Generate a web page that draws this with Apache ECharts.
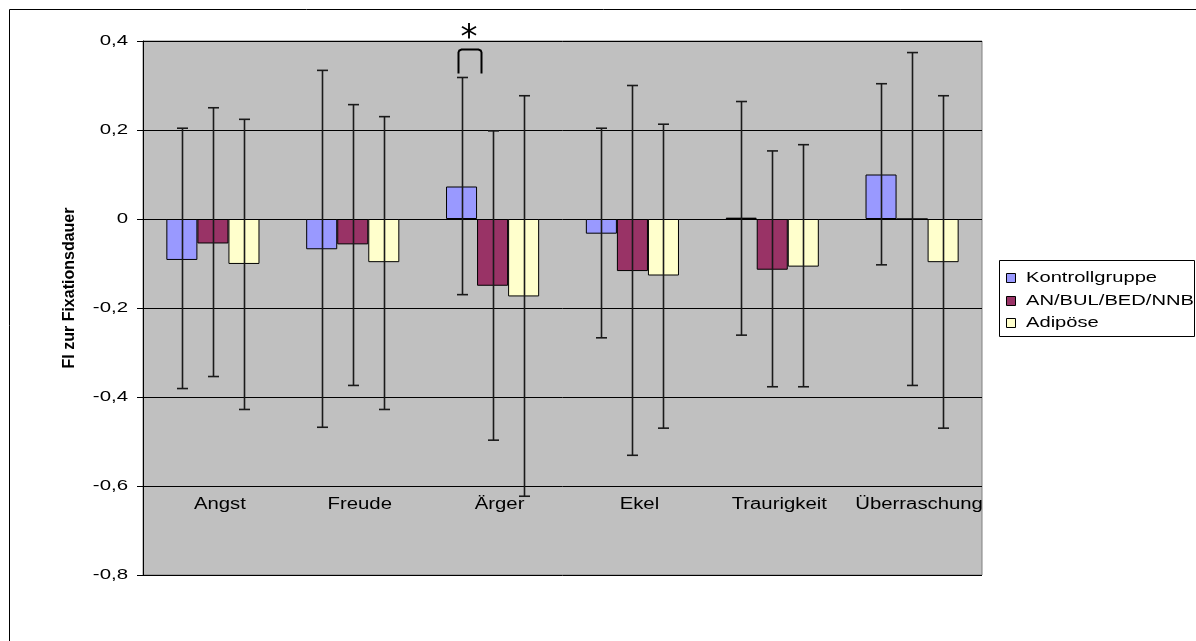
<!DOCTYPE html>
<html>
<head>
<meta charset="utf-8">
<script src="https://cdn.jsdelivr.net/npm/echarts@6/dist/echarts.min.js"></script>
<style>
  html, body { margin: 0; padding: 0; background: #fff; }
  #chart { width: 1196px; height: 641px; }
</style>
</head>
<body>
<div id="chart"></div>
<script>
// Emotion categories along the x axis
const categories = ['Angst', 'Freude', 'Ärger', 'Ekel', 'Traurigkeit', 'Überraschung'];

// Group names
const groupNames = ['Kontrollgruppe', 'AN/BUL/BED/NNB', 'Adipöse'];

// Mean FI per emotion
const kontrollMean = [-0.092, -0.068, 0.073, -0.033, 0.003, 0.100];
const essstoerungMean = [-0.055, -0.057, -0.150, -0.117, -0.114, 0];
const adipoesMean = [-0.101, -0.097, -0.174, -0.127, -0.107, -0.097];

// Error bar ends (upper / lower)
const kontrollHigh = [0.204, 0.334, 0.318, 0.204, 0.264, 0.304];
const kontrollLow = [-0.381, -0.468, -0.170, -0.267, -0.261, -0.103];
const essstoerungHigh = [0.250, 0.257, 0.198, 0.300, 0.153, 0.374];
const essstoerungLow = [-0.354, -0.374, -0.497, -0.531, -0.377, -0.374];
const adipoesHigh = [0.224, 0.230, 0.277, 0.213, 0.167, 0.277];
const adipoesLow = [-0.428, -0.428, -0.623, -0.470, -0.377, -0.470];

// Y axis range and tick values
const yMin = -0.8, yMax = 0.4, yStep = 0.2;
const yTicks = [0.4, 0.2, 0, -0.2, -0.4, -0.6, -0.8];

const colors = ['#9999FF', '#993366', '#FFFFCC'];
const BAR_FRAC = 0.222;
const FONT = '"Liberation Sans", Arial, sans-serif';

const means = [kontrollMean, essstoerungMean, adipoesMean];
const highs = [kontrollHigh, essstoerungHigh, adipoesHigh];
const lows = [kontrollLow, essstoerungLow, adipoesLow];

const barSeries = groupNames.map((name, k) => ({
  name: name,
  type: 'bar',
  data: means[k],
  barWidth: (BAR_FRAC * 100) + '%',
  barGap: '0%',
  itemStyle: { color: colors[k], borderColor: '#000', borderWidth: 1 },
  emphasis: { disabled: true },
  z: 2
}));

const errorSeries = groupNames.map((name, k) => ({
  name: name + ' SD',
  type: 'custom',
  z: 5,
  data: categories.map((c, i) => [i, lows[k][i], highs[k][i]]),
  renderItem: function (params, api) {
    const band = api.size([1, 0])[0];
    const off = (k - 1) * band * BAR_FRAC;
    const lo = api.coord([api.value(0), api.value(1)]);
    const hi = api.coord([api.value(0), api.value(2)]);
    const x = Math.round(lo[0] + off) + 0.5;
    const cap = 5.5;
    const st = { stroke: '#1a1a1a', lineWidth: 1.6 };
    return {
      type: 'group',
      children: [
        { type: 'line', shape: { x1: x, y1: hi[1], x2: x, y2: lo[1] }, style: st },
        { type: 'line', shape: { x1: x - cap, y1: hi[1], x2: x + cap, y2: hi[1] }, style: st },
        { type: 'line', shape: { x1: x - cap, y1: lo[1], x2: x + cap, y2: lo[1] }, style: st }
      ]
    };
  }
}));

const chart = echarts.init(document.getElementById('chart'), null, { renderer: 'canvas' });

chart.setOption({
  animation: false,
  backgroundColor: '#fff',
  textStyle: { fontFamily: FONT },
  grid: {
    left: 143, right: 214, top: 41, bottom: 66,
    show: true, backgroundColor: '#C0C0C0', borderColor: '#808080', borderWidth: 1
  },
  xAxis: {
    type: 'category',
    data: categories,
    axisLine: { show: false },
    axisTick: { show: false },
    axisLabel: { show: false },
    splitLine: { show: false }
  },
  yAxis: {
    type: 'value',
    min: yMin, max: yMax, interval: yStep,
    axisLine: { show: true, lineStyle: { color: '#000', width: 1 } },
    axisTick: { show: true, inside: false, length: 6, lineStyle: { color: '#000' } },
    axisLabel: { show: false },
    splitLine: { show: true, lineStyle: { color: '#000', width: 1 } }
  },
  series: barSeries.concat(errorSeries)
});

function fmt(v) {
  return Math.abs(v) < 1e-9 ? '0' : v.toFixed(1).replace('.', ',');
}

// Label text drawn with horizontally widened glyphs
function wideText(str, x, y, size, align, wide) {
  return {
    type: 'text', silent: true, z: 20,
    x: x, y: y, scaleX: wide,
    style: {
      text: str, fill: '#000', font: size + 'px ' + FONT,
      textAlign: align, textVerticalAlign: 'middle'
    }
  };
}

// Tick labels, category labels, legend, axis title, significance mark and frame
function drawAnnotations() {
  const gfx = [];
  const xPix = i => chart.convertToPixel({ xAxisIndex: 0 }, i);
  const yPix = v => chart.convertToPixel({ yAxisIndex: 0 }, v);
  const band = xPix(1) - xPix(0);
  const axisX = xPix(0) - band / 2;

  gfx.push({
    type: 'rect', silent: true, z: -10,
    shape: { x: 9.5, y: 9.5, width: 1300, height: 700 },
    style: { fill: 'none', stroke: '#000', lineWidth: 1 }
  });

  yTicks.forEach(v => gfx.push(wideText(fmt(v), axisX - 15, yPix(v), 15, 'right', 1.36)));

  const labelY = yPix(-0.6) + 19;
  categories.forEach((c, i) => gfx.push(wideText(c, xPix(i) + 7, labelY, 16, 'center', 1.27)));

  // legend
  const lx = 999.5, ly = 260.5;
  gfx.push({
    type: 'rect', silent: true, z: 15,
    shape: { x: lx, y: ly, width: 195, height: 76 },
    style: { fill: '#fff', stroke: '#000', lineWidth: 1 }
  });
  groupNames.forEach((name, k) => {
    const cy = 278 + k * 22.5;
    gfx.push({
      type: 'rect', silent: true, z: 16,
      shape: { x: 1006.5, y: Math.round(cy - 5) + 0.5, width: 9, height: 9 },
      style: { fill: colors[k], stroke: '#000', lineWidth: 1 }
    });
    const t = wideText(name, 1026, cy, 15.5, 'left', 1.3);
    t.z = 16;
    gfx.push(t);
  });

  gfx.push({
    type: 'text', silent: true,
    x: 70, y: 288, rotation: Math.PI / 2,
    style: {
      text: 'FI zur Fixationsdauer', fill: '#000',
      font: 'bold 16px ' + FONT, textAlign: 'center', textVerticalAlign: 'middle'
    }
  });

  // significance bracket between control and AN/BUL/BED/NNB for Ärger
  const c = xPix(2);
  const xl = Math.round(c - band * 0.25) + 0.5;
  const xr = Math.round(c - band * 0.08) + 0.5;
  const yTop = Math.round(yPix(0.382)) + 0.5;
  const yBot = yPix(0.327);
  gfx.push({
    type: 'polyline', silent: true, z: 10,
    shape: {
      points: [[xl, yBot], [xl, yTop + 3], [xl + 0.8, yTop + 1], [xl + 3, yTop],
               [xr - 3, yTop], [xr - 0.8, yTop + 1], [xr, yTop + 3], [xr, yBot]]
    },
    style: { fill: 'none', stroke: '#000', lineWidth: 2 }
  });
  gfx.push({
    type: 'text', silent: true, z: 10,
    x: (xl + xr) / 2 - 1, y: 39,
    style: {
      text: '*', fill: '#000',
      font: '34px "DejaVu Sans", sans-serif', textAlign: 'center', textVerticalAlign: 'middle'
    }
  });

  chart.setOption({ graphic: gfx });
}
drawAnnotations();
</script>
</body>
</html>
